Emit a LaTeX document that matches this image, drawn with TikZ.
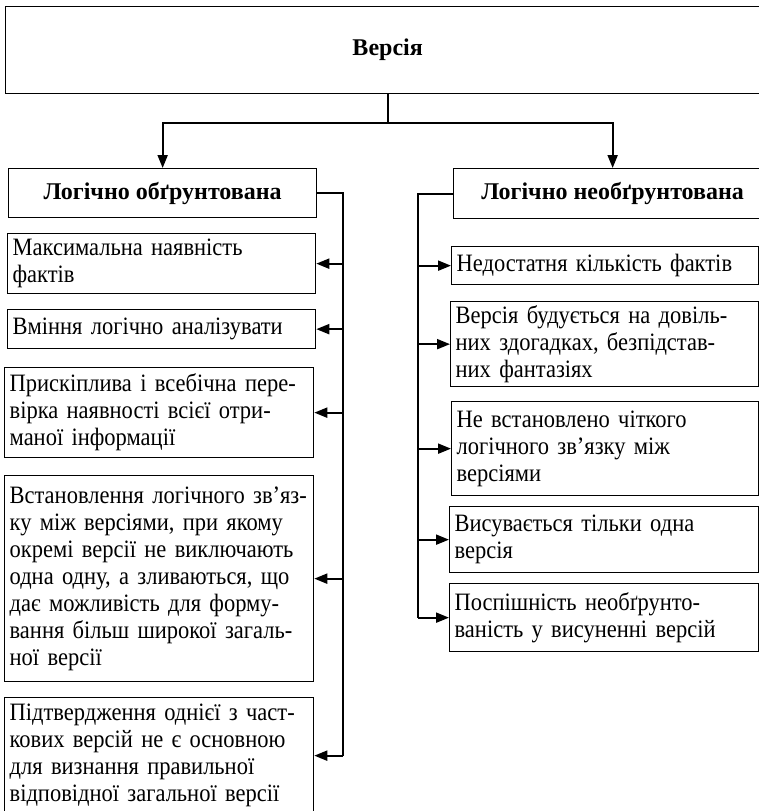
\documentclass[tikz,border=0pt]{standalone}
\usepackage{fontspec}
\setmainfont{Liberation Serif}
\newfontfamily\boxfont{Liberation Serif}[FakeStretch=0.9]
\usetikzlibrary{arrows.meta}

\tikzset{
  box/.style={draw, line width=1.3pt, anchor=north west, align=left,
    inner xsep=5pt, inner ysep=0pt,
    font=\boxfont\fontsize{25}{27}\selectfont},
  headbox/.style={draw, line width=1.3pt, anchor=north west, align=center,
    inner sep=0pt, font=\fontsize{24}{26}\selectfont\bfseries},
  link/.style={line width=2pt},
  arr/.style={link, -{Triangle[length=13pt,width=10pt]}},
}

\begin{document}
\begin{tikzpicture}[x=1pt, y=-1pt]
    \useasboundingbox (0,0) rectangle (759,811);

    % Top
    \node[headbox, minimum width=764pt, minimum height=87pt] (versiia) at (5,6) {Версія};

    % Two kinds
    \node[headbox, minimum width=308pt, minimum height=49pt] (logic) at (8,168) {Логічно обґрунтована};
    \node[headbox, minimum width=318pt, minimum height=50pt] (nologic) at (453,168) {Логічно необґрунтована};

    % Left column
    \node[box, text width=298pt, minimum height=60pt] (l1) at (7,233) {Максимальна наявність\\фактів};
    \node[box, text width=298pt, minimum height=39pt] (l2) at (7,309) {Вміння логічно аналізувати};
    \node[box, text width=299pt, minimum height=90pt] (l3) at (4,367)
        {Прискіплива і всебічна пере-\\вірка наявності всієї отри-\\маної інформації};
    \node[box, text width=299pt, minimum height=206pt] (l4) at (4,475)
        {Встановлення~логічного~зв’яз-\\ку між версіями, при якому\\окремі версії не виключають\\одна одну, а зливаються, що\\дає можливість для форму-\\вання більш широкої загаль-\\ної версії};
    \node[box, text width=299pt, minimum height=116pt] (l5) at (4,697)
        {Підтвердження однієї з част-\\кових версій не є основною\\для визнання правильної\\відповідної загальної версії};

    % Right column
    \node[box, text width=297pt, minimum height=38pt] (r1) at (451,246) {Недостатня кількість фактів};
    \node[box, text width=298pt, minimum height=85pt] (r2) at (450,301)
        {Версія будується на довіль-\\них здогадках, безпідстав-\\них фантазіях};
    \node[box, text width=297pt, minimum height=94pt] (r3) at (451,401)
        {Не встановлено чіткого\\логічного зв’язку між\\версіями};
    \node[box, text width=299pt, minimum height=66pt] (r4) at (449,506)
        {Висувається тільки одна\\версія};
    \node[box, text width=299pt, minimum height=68pt] (r5) at (449,583)
        {Поспішність необґрунто-\\ваність у висуненні версій};

    % Connectors
    \coordinate (lx) at (343,0);
    \coordinate (rx) at (418,0);

    \draw[link] (versiia.south) -- ++(0,29) coordinate (split);
    \draw[arr] (split) -| (logic.north);
    \draw[arr] (split) -| (nologic.north);

    \draw[link] (logic.east) -| (l5.east -| lx);
    \foreach \b in {l1,l2,l3,l4,l5}
        \draw[arr] (\b.east -| lx) -- (\b.east);

    \draw[link] (nologic.west) -| (r5.west -| rx);
    \foreach \b in {r1,r2,r3,r4,r5}
        \draw[arr] (\b.west -| rx) -- (\b.west);
\end{tikzpicture}
\end{document}
